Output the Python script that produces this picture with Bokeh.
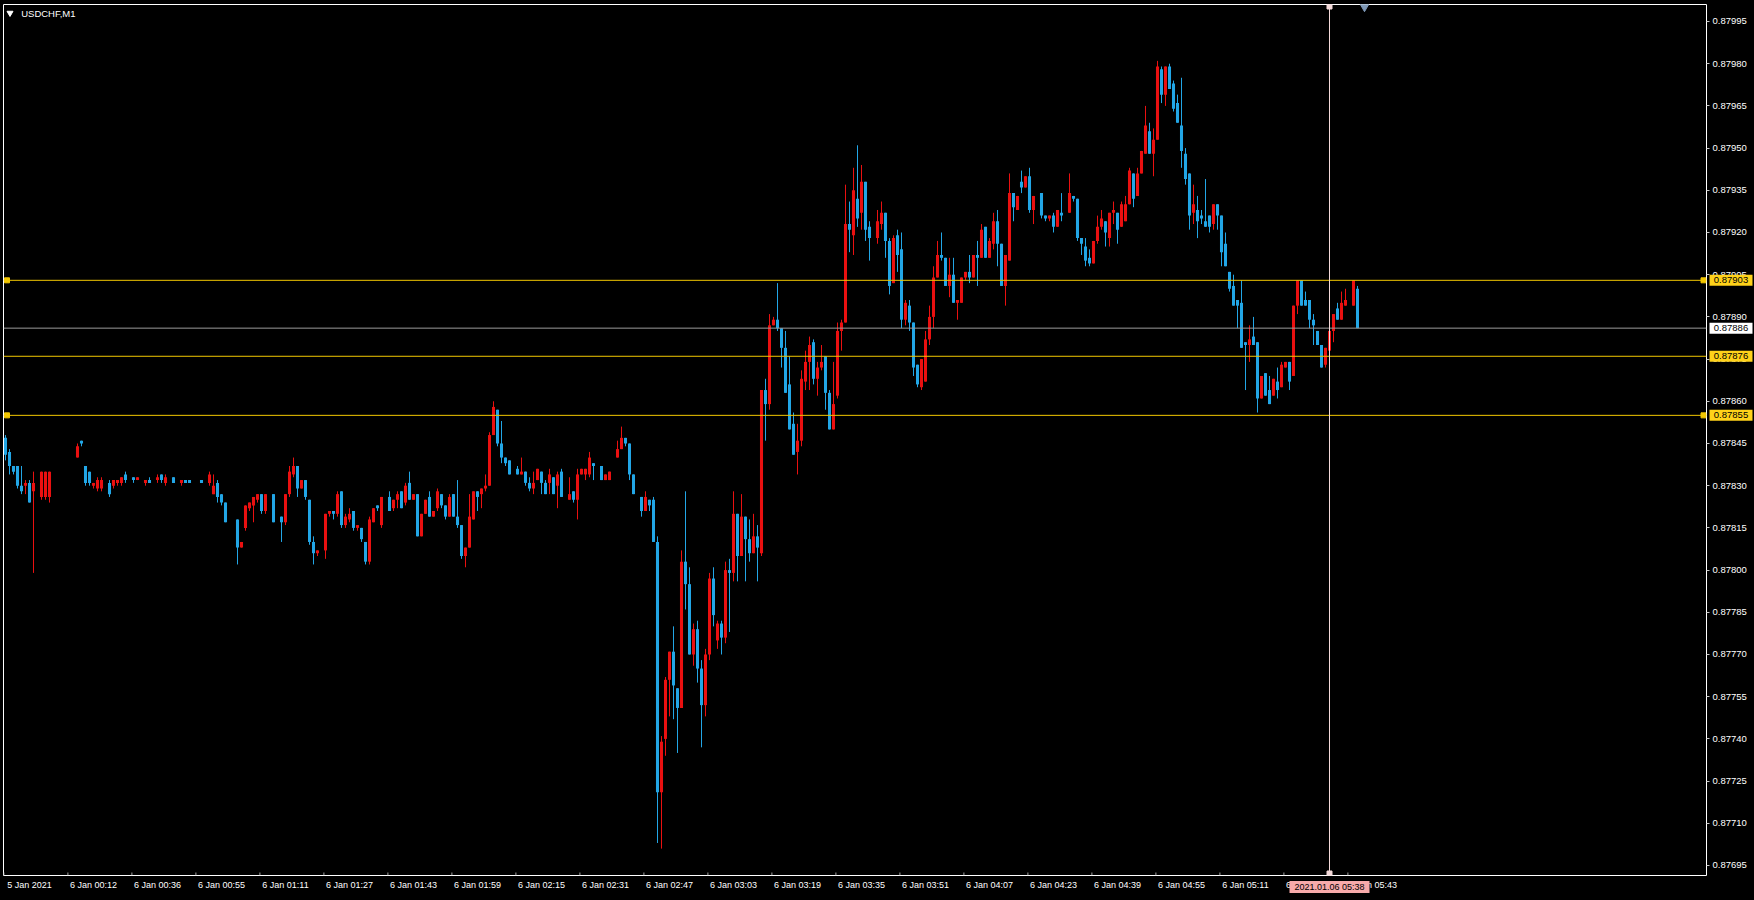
import numpy as np
from bokeh.plotting import figure
from bokeh.models import (ColumnDataSource, Range1d, FixedTicker, PrintfTickFormatter,
                          Span, Label, GlobalInlineStyleSheet)
from bokeh.core.properties import value
from bokeh.embed import file_html
from bokeh.resources import INLINE

symbol_title = "USDCHF,M1"

# ---------------- data (USDCHF M1 candles, bar index 0..338) ----------------
open_ = [
    0.87847, 0.87842, 0.87837, 0.87837, 0.87830, 0.87830, 0.87831, 0.87828, None, 0.87826,
    0.87826, 0.87826, None, None, None, None, None, None, 0.87840, 0.87846,
    0.87837, 0.87835, 0.87830, 0.87829, 0.87829, None, 0.87831, 0.87830, 0.87831, 0.87831,
    0.87834, None, 0.87833, 0.87832, None, 0.87831, 0.87832, None, 0.87832, 0.87834,
    0.87831, None, 0.87833, None, 0.87831, 0.87832, 0.87832, None, None, 0.87832,
    None, 0.87831, 0.87827, 0.87831, 0.87827, 0.87824, None, None, 0.87818, 0.87808,
    0.87815, 0.87822, 0.87823, 0.87825, 0.87827, 0.87821, None, 0.87827, None, 0.87819,
    0.87817, 0.87827, 0.87834, 0.87837, 0.87829, 0.87832, 0.87825, 0.87810, 0.87806, None,
    0.87807, 0.87820, 0.87821, 0.87820, 0.87828, 0.87816, 0.87818, 0.87821, 0.87815, 0.87815,
    0.87810, 0.87803, 0.87817, 0.87823, 0.87816, None, 0.87826, 0.87822, 0.87825, 0.87828,
    0.87824, 0.87831, 0.87825, 0.87827, 0.87812, 0.87820, 0.87826, 0.87819, 0.87822, 0.87827,
    0.87823, 0.87819, 0.87827, 0.87819, 0.87816, 0.87805, 0.87808, 0.87818, 0.87828, 0.87827,
    0.87829, 0.87830, 0.87848, 0.87857, 0.87845, 0.87840, 0.87839, None, 0.87836, 0.87834,
    0.87835, 0.87831, 0.87829, 0.87832, 0.87835, 0.87831, 0.87831, 0.87833, 0.87830, 0.87835,
    None, 0.87825, 0.87828, 0.87825, 0.87834, 0.87834, 0.87834, 0.87838, None, 0.87837,
    0.87832, 0.87832, None, 0.87840, 0.87843, 0.87847, 0.87845, 0.87834, None, 0.87826,
    0.87821, 0.87825, 0.87825, 0.87810, 0.87721, 0.87740, 0.87761, 0.87771, 0.87758, 0.87751,
    0.87803, 0.87795, 0.87770, 0.87779, 0.87765, 0.87752, 0.87770, 0.87797, 0.87775, 0.87781,
    0.87776, 0.87800, 0.87799, 0.87820, 0.87805, 0.87819, 0.87811, 0.87806, 0.87812, 0.87806,
    0.87864, 0.87859, 0.87887, 0.87889, 0.87886, 0.87879, 0.87866, 0.87852, 0.87842, 0.87846,
    0.87867, 0.87874, 0.87881, 0.87868, 0.87872, 0.87876, 0.87863, 0.87850, 0.87862, 0.87885,
    0.87888, 0.87923, 0.87919, 0.87932, 0.87927, 0.87938, 0.87922, None, 0.87918, 0.87923,
    0.87927, 0.87917, 0.87902, 0.87919, 0.87914, 0.87889, 0.87894, 0.87888, 0.87873, 0.87865,
    0.87867, 0.87882, 0.87890, 0.87904, 0.87912, 0.87911, 0.87901, 0.87905, 0.87895, 0.87895,
    0.87904, 0.87906, 0.87904, 0.87912, 0.87911, 0.87922, 0.87911, 0.87916, 0.87924, 0.87916,
    0.87901, 0.87910, 0.87934, 0.87928, 0.87938, 0.87936, 0.87940, 0.87928, None, 0.87934,
    0.87926, 0.87925, 0.87926, 0.87922, 0.87927, None, 0.87927, 0.87933, 0.87932, 0.87918,
    0.87915, 0.87911, 0.87909, 0.87917, 0.87922, 0.87924, 0.87918, 0.87927, 0.87927, 0.87922,
    0.87924, 0.87930, 0.87941, 0.87933, 0.87941, 0.87948, 0.87956, 0.87948, 0.87953, 0.87978,
    0.87969, 0.87979, 0.87973, 0.87966, 0.87958, 0.87948, 0.87941, 0.87927, 0.87928, 0.87926,
    0.87924, 0.87926, 0.87923, 0.87930, 0.87926, 0.87916, 0.87906, 0.87901, 0.87896, 0.87895,
    0.87881, 0.87880, 0.87883, 0.87881, 0.87861, 0.87870, 0.87864, 0.87862, 0.87867, 0.87865,
    0.87872, 0.87874, 0.87869, 0.87894, 0.87903, 0.87896, 0.87896, 0.87889, 0.87885, 0.87880,
    0.87873, 0.87878, 0.87885, 0.87893, 0.87889, 0.87894, None, 0.87894, 0.87900,
]
high = [
    0.87848, 0.87843, 0.87837, 0.87837, 0.87837, 0.87832, 0.87832, 0.87835, None, 0.87835,
    0.87835, 0.87835, None, None, None, None, None, None, 0.87845, 0.87846,
    0.87837, 0.87835, 0.87831, 0.87833, 0.87833, None, 0.87832, 0.87832, 0.87832, 0.87833,
    0.87835, None, 0.87833, 0.87833, None, 0.87832, 0.87833, None, 0.87834, 0.87834,
    0.87834, None, 0.87833, None, 0.87832, 0.87832, 0.87832, None, None, 0.87832,
    None, 0.87835, 0.87834, 0.87832, 0.87827, 0.87824, None, None, 0.87818, 0.87810,
    0.87823, 0.87824, 0.87826, 0.87827, 0.87827, 0.87827, None, 0.87827, None, 0.87819,
    0.87827, 0.87837, 0.87840, 0.87837, 0.87832, 0.87832, 0.87825, 0.87812, 0.87807, None,
    0.87820, 0.87821, 0.87821, 0.87828, 0.87828, 0.87820, 0.87822, 0.87821, 0.87816, 0.87815,
    0.87810, 0.87819, 0.87822, 0.87823, 0.87826, None, 0.87828, 0.87825, 0.87828, 0.87828,
    0.87831, 0.87835, 0.87827, 0.87827, 0.87820, 0.87825, 0.87828, 0.87821, 0.87829, 0.87827,
    0.87823, 0.87827, 0.87827, 0.87832, 0.87816, 0.87808, 0.87827, 0.87828, 0.87828, 0.87829,
    0.87834, 0.87849, 0.87860, 0.87857, 0.87853, 0.87840, 0.87839, None, 0.87837, 0.87840,
    0.87835, 0.87833, 0.87835, 0.87836, 0.87835, 0.87832, 0.87836, 0.87833, 0.87835, 0.87836,
    None, 0.87833, 0.87828, 0.87836, 0.87836, 0.87836, 0.87842, 0.87838, None, 0.87837,
    0.87834, 0.87835, None, 0.87846, 0.87851, 0.87847, 0.87845, 0.87834, None, 0.87826,
    0.87828, 0.87825, 0.87826, 0.87812, 0.87741, 0.87762, 0.87771, 0.87780, 0.87758, 0.87807,
    0.87828, 0.87801, 0.87781, 0.87782, 0.87768, 0.87772, 0.87799, 0.87801, 0.87782, 0.87782,
    0.87803, 0.87804, 0.87828, 0.87820, 0.87827, 0.87819, 0.87818, 0.87820, 0.87816, 0.87864,
    0.87868, 0.87891, 0.87890, 0.87902, 0.87886, 0.87885, 0.87876, 0.87856, 0.87852, 0.87871,
    0.87878, 0.87883, 0.87882, 0.87874, 0.87880, 0.87876, 0.87864, 0.87874, 0.87888, 0.87889,
    0.87937, 0.87931, 0.87943, 0.87951, 0.87944, 0.87938, 0.87924, None, 0.87928, 0.87931,
    0.87927, 0.87918, 0.87919, 0.87921, 0.87920, 0.87896, 0.87896, 0.87888, 0.87873, 0.87875,
    0.87885, 0.87894, 0.87908, 0.87917, 0.87920, 0.87911, 0.87911, 0.87911, 0.87896, 0.87904,
    0.87906, 0.87912, 0.87912, 0.87917, 0.87923, 0.87922, 0.87918, 0.87927, 0.87928, 0.87916,
    0.87912, 0.87941, 0.87934, 0.87933, 0.87942, 0.87940, 0.87943, 0.87933, None, 0.87934,
    0.87926, 0.87926, 0.87927, 0.87928, 0.87934, None, 0.87941, 0.87933, 0.87932, 0.87918,
    0.87918, 0.87914, 0.87917, 0.87926, 0.87928, 0.87924, 0.87927, 0.87931, 0.87927, 0.87931,
    0.87933, 0.87943, 0.87941, 0.87943, 0.87949, 0.87965, 0.87959, 0.87957, 0.87981, 0.87979,
    0.87979, 0.87980, 0.87974, 0.87969, 0.87975, 0.87950, 0.87941, 0.87937, 0.87933, 0.87928,
    0.87939, 0.87926, 0.87930, 0.87930, 0.87926, 0.87920, 0.87906, 0.87905, 0.87896, 0.87903,
    0.87881, 0.87887, 0.87890, 0.87881, 0.87869, 0.87870, 0.87869, 0.87868, 0.87872, 0.87874,
    0.87874, 0.87874, 0.87894, 0.87903, 0.87903, 0.87899, 0.87896, 0.87891, 0.87885, 0.87880,
    0.87879, 0.87885, 0.87891, 0.87895, 0.87899, 0.87900, None, 0.87903, 0.87901,
]
low = [
    0.87839, 0.87834, 0.87834, 0.87829, 0.87827, 0.87827, 0.87824, 0.87799, None, 0.87825,
    0.87825, 0.87824, None, None, None, None, None, None, 0.87840, 0.87844,
    0.87830, 0.87830, 0.87829, 0.87828, 0.87828, None, 0.87826, 0.87829, 0.87830, 0.87830,
    0.87831, None, 0.87831, 0.87832, None, 0.87830, 0.87831, None, 0.87831, 0.87831,
    0.87830, None, 0.87831, None, 0.87830, 0.87831, 0.87831, None, None, 0.87831,
    None, 0.87830, 0.87827, 0.87824, 0.87823, 0.87817, None, None, 0.87802, 0.87808,
    0.87814, 0.87821, 0.87817, 0.87824, 0.87820, 0.87820, None, 0.87817, None, 0.87810,
    0.87816, 0.87826, 0.87833, 0.87826, 0.87829, 0.87825, 0.87809, 0.87802, 0.87805, None,
    0.87804, 0.87819, 0.87818, 0.87819, 0.87815, 0.87815, 0.87817, 0.87814, 0.87814, 0.87810,
    0.87802, 0.87802, 0.87817, 0.87821, 0.87815, None, 0.87821, 0.87821, 0.87822, 0.87822,
    0.87823, 0.87825, 0.87825, 0.87812, 0.87812, 0.87820, 0.87819, 0.87819, 0.87821, 0.87822,
    0.87818, 0.87819, 0.87819, 0.87815, 0.87804, 0.87801, 0.87808, 0.87818, 0.87821, 0.87822,
    0.87828, 0.87830, 0.87848, 0.87844, 0.87838, 0.87837, 0.87834, None, 0.87834, 0.87834,
    0.87830, 0.87828, 0.87827, 0.87832, 0.87827, 0.87827, 0.87827, 0.87827, 0.87822, 0.87826,
    None, 0.87825, 0.87824, 0.87818, 0.87834, 0.87832, 0.87833, 0.87832, None, 0.87832,
    0.87832, 0.87832, None, 0.87840, 0.87843, 0.87844, 0.87832, 0.87827, None, 0.87819,
    0.87821, 0.87821, 0.87810, 0.87703, 0.87701, 0.87734, 0.87748, 0.87747, 0.87735, 0.87751,
    0.87786, 0.87770, 0.87766, 0.87760, 0.87737, 0.87748, 0.87768, 0.87780, 0.87772, 0.87770,
    0.87774, 0.87778, 0.87796, 0.87796, 0.87805, 0.87796, 0.87803, 0.87806, 0.87796, 0.87805,
    0.87846, 0.87857, 0.87887, 0.87885, 0.87872, 0.87863, 0.87850, 0.87841, 0.87834, 0.87844,
    0.87864, 0.87864, 0.87866, 0.87862, 0.87871, 0.87857, 0.87850, 0.87850, 0.87861, 0.87878,
    0.87888, 0.87913, 0.87912, 0.87922, 0.87921, 0.87917, 0.87910, None, 0.87916, 0.87921,
    0.87911, 0.87898, 0.87902, 0.87906, 0.87886, 0.87887, 0.87885, 0.87869, 0.87865, 0.87864,
    0.87867, 0.87880, 0.87886, 0.87904, 0.87910, 0.87901, 0.87897, 0.87895, 0.87889, 0.87895,
    0.87903, 0.87902, 0.87904, 0.87901, 0.87911, 0.87911, 0.87911, 0.87914, 0.87908, 0.87901,
    0.87894, 0.87910, 0.87924, 0.87928, 0.87934, 0.87936, 0.87927, 0.87923, None, 0.87925,
    0.87924, 0.87924, 0.87920, 0.87922, 0.87924, None, 0.87927, 0.87931, 0.87917, 0.87912,
    0.87908, 0.87908, 0.87909, 0.87916, 0.87921, 0.87915, 0.87915, 0.87923, 0.87916, 0.87922,
    0.87924, 0.87930, 0.87929, 0.87933, 0.87941, 0.87948, 0.87948, 0.87940, 0.87953, 0.87966,
    0.87965, 0.87971, 0.87963, 0.87959, 0.87943, 0.87937, 0.87921, 0.87923, 0.87918, 0.87923,
    0.87922, 0.87920, 0.87921, 0.87921, 0.87908, 0.87908, 0.87899, 0.87894, 0.87886, 0.87879,
    0.87864, 0.87874, 0.87880, 0.87856, 0.87861, 0.87862, 0.87859, 0.87862, 0.87861, 0.87865,
    0.87872, 0.87864, 0.87869, 0.87891, 0.87894, 0.87894, 0.87886, 0.87880, 0.87880, 0.87872,
    0.87872, 0.87877, 0.87881, 0.87889, 0.87889, 0.87894, None, 0.87894, 0.87886,
]
close = [
    0.87841, 0.87837, 0.87835, 0.87830, 0.87828, 0.87831, 0.87824, 0.87831, None, 0.87835,
    0.87835, 0.87835, None, None, None, None, None, None, 0.87844, 0.87845,
    0.87831, 0.87831, 0.87831, 0.87832, 0.87832, None, 0.87827, 0.87832, 0.87832, 0.87833,
    0.87832, None, 0.87832, 0.87833, None, 0.87832, 0.87831, None, 0.87833, 0.87832,
    0.87833, None, 0.87831, None, 0.87832, 0.87831, 0.87831, None, None, 0.87831,
    None, 0.87834, 0.87830, 0.87826, 0.87824, 0.87817, None, None, 0.87808, 0.87810,
    0.87823, 0.87824, 0.87826, 0.87827, 0.87821, 0.87827, None, 0.87817, None, 0.87817,
    0.87827, 0.87835, 0.87837, 0.87829, 0.87832, 0.87826, 0.87810, 0.87806, 0.87807, None,
    0.87820, 0.87821, 0.87820, 0.87827, 0.87816, 0.87819, 0.87820, 0.87815, 0.87816, 0.87811,
    0.87803, 0.87818, 0.87822, 0.87822, 0.87826, None, 0.87821, 0.87825, 0.87827, 0.87822,
    0.87830, 0.87825, 0.87827, 0.87812, 0.87820, 0.87825, 0.87819, 0.87821, 0.87828, 0.87823,
    0.87819, 0.87826, 0.87819, 0.87816, 0.87805, 0.87808, 0.87819, 0.87828, 0.87826, 0.87829,
    0.87830, 0.87848, 0.87858, 0.87845, 0.87840, 0.87838, 0.87834, None, 0.87834, 0.87835,
    0.87831, 0.87829, 0.87831, 0.87836, 0.87831, 0.87827, 0.87834, 0.87827, 0.87834, 0.87826,
    None, 0.87827, 0.87825, 0.87834, 0.87836, 0.87836, 0.87840, 0.87837, None, 0.87832,
    0.87834, 0.87835, None, 0.87843, 0.87847, 0.87845, 0.87834, 0.87827, None, 0.87821,
    0.87826, 0.87823, 0.87810, 0.87721, 0.87739, 0.87761, 0.87771, 0.87759, 0.87751, 0.87803,
    0.87795, 0.87770, 0.87779, 0.87765, 0.87752, 0.87770, 0.87797, 0.87784, 0.87781, 0.87776,
    0.87800, 0.87799, 0.87820, 0.87805, 0.87819, 0.87811, 0.87806, 0.87812, 0.87808, 0.87864,
    0.87859, 0.87887, 0.87889, 0.87886, 0.87879, 0.87863, 0.87850, 0.87841, 0.87846, 0.87868,
    0.87874, 0.87880, 0.87868, 0.87872, 0.87874, 0.87863, 0.87850, 0.87859, 0.87885, 0.87888,
    0.87923, 0.87921, 0.87935, 0.87925, 0.87938, 0.87921, 0.87918, None, 0.87924, 0.87927,
    0.87917, 0.87901, 0.87918, 0.87912, 0.87889, 0.87895, 0.87888, 0.87872, 0.87866, 0.87875,
    0.87882, 0.87890, 0.87904, 0.87912, 0.87911, 0.87901, 0.87905, 0.87895, 0.87896, 0.87904,
    0.87906, 0.87904, 0.87912, 0.87911, 0.87921, 0.87911, 0.87917, 0.87924, 0.87916, 0.87901,
    0.87912, 0.87934, 0.87929, 0.87933, 0.87936, 0.87940, 0.87928, 0.87933, None, 0.87926,
    0.87925, 0.87926, 0.87922, 0.87928, 0.87926, None, 0.87934, 0.87932, 0.87918, 0.87916,
    0.87910, 0.87909, 0.87917, 0.87922, 0.87925, 0.87920, 0.87927, 0.87928, 0.87921, 0.87930,
    0.87930, 0.87942, 0.87932, 0.87941, 0.87949, 0.87958, 0.87948, 0.87953, 0.87979, 0.87969,
    0.87979, 0.87971, 0.87964, 0.87959, 0.87949, 0.87939, 0.87926, 0.87930, 0.87924, 0.87925,
    0.87922, 0.87922, 0.87930, 0.87926, 0.87913, 0.87908, 0.87900, 0.87894, 0.87894, 0.87879,
    0.87880, 0.87882, 0.87880, 0.87861, 0.87869, 0.87862, 0.87859, 0.87868, 0.87864, 0.87873,
    0.87874, 0.87867, 0.87894, 0.87903, 0.87894, 0.87894, 0.87889, 0.87887, 0.87880, 0.87872,
    0.87879, 0.87885, 0.87891, 0.87889, 0.87895, 0.87896, None, 0.87903, 0.87886,
]

label_bars = [0, 16, 32, 48, 64, 80, 96, 112, 128, 144, 160,
              176, 192, 208, 224, 240, 256, 272, 288, 304, 320, 336]
time_labels = ["5 Jan 2021", "6 Jan 00:12", "6 Jan 00:36", "6 Jan 00:55", "6 Jan 01:11",
               "6 Jan 01:27", "6 Jan 01:43", "6 Jan 01:59", "6 Jan 02:15", "6 Jan 02:31",
               "6 Jan 02:47", "6 Jan 03:03", "6 Jan 03:19", "6 Jan 03:35", "6 Jan 03:51",
               "6 Jan 04:07", "6 Jan 04:23", "6 Jan 04:39", "6 Jan 04:55", "6 Jan 05:11",
               "6 Jan 05:27", "6 Jan 05:43"]
price_ticks = [0.87695, 0.87710, 0.87725, 0.87740, 0.87755, 0.87770, 0.87785, 0.87800,
               0.87815, 0.87830, 0.87845, 0.87860, 0.87875, 0.87890, 0.87905, 0.87920,
               0.87935, 0.87950, 0.87965, 0.87980, 0.87995]
level_lines = [0.87903, 0.87876, 0.87855]
level_tags = ["0.87903", "0.87876", "0.87855"]
level_anchored = [True, False, True]
bid_price = 0.87886
bid_tag = "0.87886"
cursor_bar = 331
cursor_tag = "2021.01.06 05:38"
shift_bar = 339.75

# ---------------- styling / geometry ----------------
BULL = "#EA1010"
BEAR = "#22A6E6"
LEVEL = "#F2C700"
TAG_BG = "#FFD21A"
FONT = "Liberation Sans"

W, H = 1754, 900
LEFT, TOP, RIGHT, BOTTOM = 3, 4, 48, 25
FRAME_W, FRAME_H = W - LEFT - RIGHT, H - TOP - BOTTOM     # 1703 x 871
PX = 4.0                                                   # pixels per bar
X0 = -0.5
X1 = X0 + FRAME_W / PX
Y1 = 0.8800104
PPX = 1.0 / 281333.0                                        # price per pixel
Y0 = Y1 - FRAME_H * PPX

o = np.array(open_, dtype=float)
h = np.array(high, dtype=float)
l = np.array(low, dtype=float)
c = np.array(close, dtype=float)
idx = np.arange(len(o), dtype=float)
ok = ~np.isnan(o)
col = np.where(c > o, BULL, BEAR)

src = ColumnDataSource(dict(
    x=idx[ok], h=h[ok], l=l[ok],
    top=np.maximum(o, c)[ok], bottom=np.minimum(o, c)[ok], color=col[ok]))

p = figure(width=W, height=H,
           x_range=Range1d(X0, X1), y_range=Range1d(Y0, Y1),
           output_backend="svg", toolbar_location=None, y_axis_location="right",
           min_border_left=LEFT, min_border_top=TOP,
           min_border_right=RIGHT, min_border_bottom=BOTTOM,
           background_fill_color="black", border_fill_color="black",
           outline_line_color="#FFFFFF", outline_line_width=1)
p.stylesheets = [GlobalInlineStyleSheet(css="html, body { background-color: #000000; }")]
p.grid.visible = False

# candles
p.segment(x0="x", y0="l", x1="x", y1="h", line_color="color", line_width=1, source=src)
p.vbar(x="x", width=0.76, top="top", bottom="bottom", fill_color="color",
       line_color=None, source=src)

# horizontal levels
for lv in level_lines:
    p.add_layout(Span(location=lv, dimension="width", line_color=LEVEL, line_width=1))
p.add_layout(Span(location=bid_price, dimension="width", line_color="#9A9A9A", line_width=1))
anch = [lv for lv, a in zip(level_lines, level_anchored) if a]
p.scatter(x=[X0 + 3.5 / PX] * len(anch) + [X1 - 3.0 / PX] * len(anch),
          y=anch + anch, marker="square", size=5, color=LEVEL)

# crosshair
p.add_layout(Span(location=cursor_bar, dimension="height", line_color="#F4DADA", line_width=1))
p.scatter(x=[cursor_bar, cursor_bar], y=[Y1 - 2 * PPX, Y0 + 2 * PPX],
          marker="square", size=5, color="#F4DADA")

# chart shift marker and title triangle
p.scatter(x=[shift_bar], y=[Y1 - 2 * PPX], marker="inverted_triangle", size=9, color="#7D97B5")
p.scatter(x=[X0 + 6.5 / PX], y=[Y1 - 8.5 * PPX], marker="inverted_triangle", size=6, color="white")

# bottom tick marks (inside the frame, at the bars)
tb = [b - 0.4 for b in label_bars]
p.segment(x0=tb, y0=[Y0] * len(tb), x1=tb, y1=[Y0 + 3 * PPX] * len(tb),
          line_color="#A0A0A0", line_width=1)

# axes
xa = p.xaxis[0]
xa.ticker = FixedTicker(ticks=[b + 6 for b in label_bars])
xa.major_label_overrides = {b + 6: t for b, t in zip(label_bars, time_labels)}
xa.major_tick_line_color = None
xa.minor_tick_line_color = None
xa.axis_line_color = None
xa.major_tick_out = 0
xa.major_tick_in = 0
xa.major_label_standoff = 4
xa.major_label_text_color = "#FFFFFF"
xa.major_label_text_font = FONT
xa.major_label_text_font_size = "9px"

ya = p.yaxis[0]
ya.ticker = FixedTicker(ticks=price_ticks)
ya.formatter = PrintfTickFormatter(format="%.5f")
ya.major_tick_in = 0
ya.major_tick_out = 3
ya.major_tick_line_color = "#C8C8C8"
ya.minor_tick_line_color = None
ya.axis_line_color = None
ya.major_label_standoff = 3
ya.major_label_text_color = "#FFFFFF"
ya.major_label_text_font = FONT
ya.major_label_text_font_size = "9.5px"

# title
p.add_layout(Label(x=X0 + 17.7 / PX, y=Y1 - 8.7 * PPX, text=symbol_title,
                   text_align="left", text_baseline="middle", text_color="#FFFFFF",
                   text_font=FONT, text_font_size="9.5px"))

# price tags on the right scale (drawn as overlay glyphs so they sit over the axis)
tag_x = X1 + 24.5 / PX
tag_prices = level_lines + [bid_price]
tag_texts = level_tags + [bid_tag]
tag_fill = [TAG_BG] * len(level_lines) + ["#FFFFFF"]
p.rect(x=[tag_x] * len(tag_prices), y=tag_prices, width=43, height=11,
       width_units="screen", height_units="screen", fill_color=tag_fill,
       line_color=None, level="overlay")
p.text(x=[tag_x] * len(tag_prices), y=tag_prices, text=tag_texts, text_align="center",
       text_baseline="middle", text_color="#000000", text_font=value(FONT),
       text_font_size=value("9.5px"), level="overlay")

# crosshair time tag
ty = Y0 - 11.5 * PPX
p.rect(x=[cursor_bar], y=[ty], width=80, height=12, width_units="screen",
       height_units="screen", fill_color="#F7AAAA", line_color=None, level="overlay")
p.text(x=[cursor_bar], y=[ty], text=[cursor_tag], text_align="center",
       text_baseline="middle", text_color="#000000", text_font=value(FONT),
       text_font_size=value("9px"), level="overlay")

open("out.html", "w").write(file_html(p, INLINE))
